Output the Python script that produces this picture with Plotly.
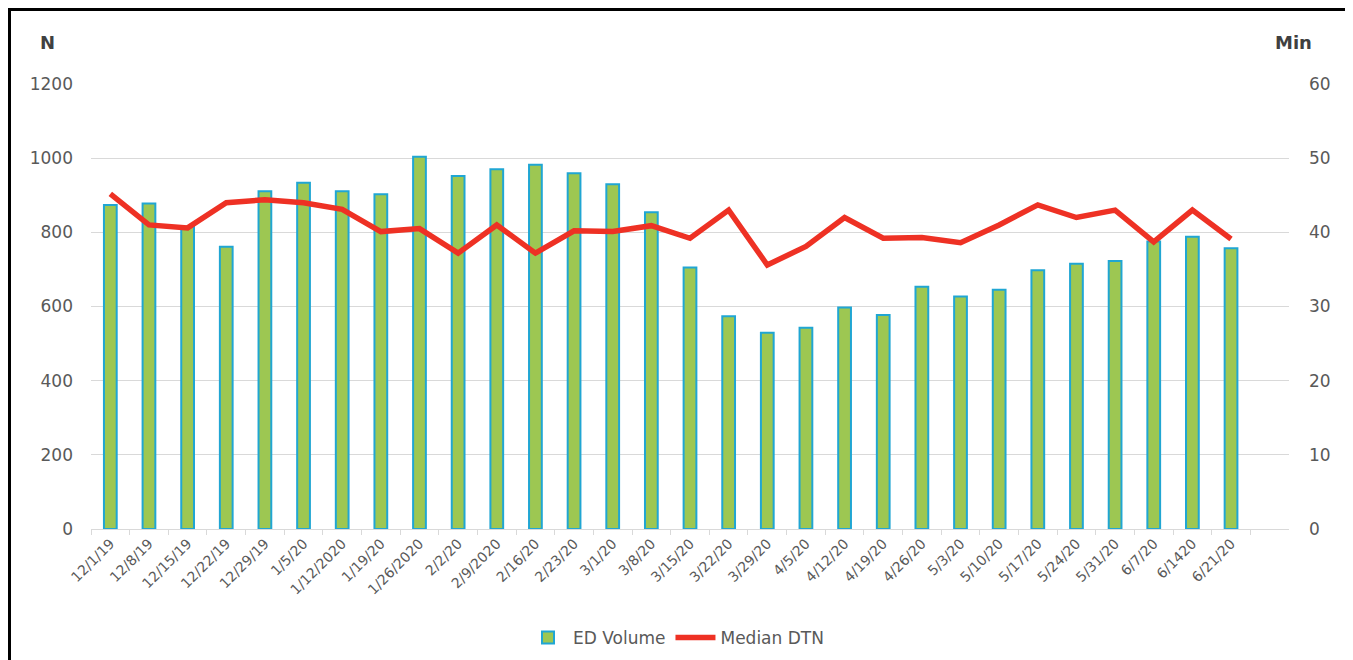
import plotly.graph_objects as go

dates = ["12/1/19", "12/8/19", "12/15/19", "12/22/19", "12/29/19", "1/5/20", "1/12/2020",
         "1/19/20", "1/26/2020", "2/2/20", "2/9/2020", "2/16/20", "2/23/20", "3/1/20",
         "3/8/20", "3/15/20", "3/22/20", "3/29/20", "4/5/20", "4/12/20", "4/19/20",
         "4/26/20", "5/3/20", "5/10/20", "5/17/20", "5/24/20", "5/31/20", "6/7/20",
         "6/1420", "6/21/20"]
ed_volume = [874, 878, 815, 761, 911, 934, 911, 903, 1004, 952, 970, 982, 959, 930,
             854, 705, 574, 529, 543, 597, 577, 653, 627, 645, 698, 715, 723, 775, 788, 757]
median_dtn = [45.2, 41.0, 40.6, 44.0, 44.4, 44.0, 43.1, 40.1, 40.5, 37.2, 41.0, 37.2, 40.2,
              40.1, 40.9, 39.2, 43.0, 35.6, 38.1, 42.0, 39.2, 39.3, 38.6, 41.0, 43.7, 42.0,
              43.0, 38.7, 43.0, 39.1]
left_ticks = [0, 200, 400, 600, 800, 1000, 1200]
right_ticks = [0, 10, 20, 30, 40, 50, 60]

FONT = "'DejaVu Sans', Lato, sans-serif"
W, H = 1353, 660
OFF = 8  # page body margin offset
X0, X1, Y0, Y1 = 91, 1289, 84, 529  # plot area in page pixels
pw, ph = X1 - X0, Y1 - Y0
L, T = X0 - OFF, Y0 - OFF
R, B = W - L - pw, H - T - ph


def px(x):
    return (x - X0) / pw


def py(y):
    return 1 - (y - Y0) / ph


fig = go.Figure()
fig.add_trace(go.Bar(
    x=dates, y=ed_volume, name="ED Volume", width=0.33,
    marker=dict(color="#9DC752", line=dict(color="#20A6D3", width=2)),
    yaxis="y"))
fig.add_trace(go.Scatter(
    x=dates, y=median_dtn, name="Median DTN", mode="lines",
    line=dict(color="#EE3124", width=5.5), yaxis="y2"))

fig.update_layout(
    width=W, height=H,
    margin=dict(l=L, r=R, t=T, b=B, autoexpand=False),
    paper_bgcolor="white", plot_bgcolor="white",
    font=dict(family=FONT, color="#595959", size=14),
    showlegend=True,
    legend=dict(orientation="h", x=px(676), xanchor="center", y=py(620), yanchor="top",
                font=dict(size=17, color="#595959"), itemwidth=40, traceorder="normal"),
    xaxis=dict(type="category", categoryorder="array", categoryarray=dates,
               range=[-0.5, 30.5], tickangle=-45, tickfont=dict(size=14),
               showgrid=False, showline=True, linecolor="#D9D9D9", linewidth=1,
               ticks="outside", tickson="boundaries", ticklen=5, tickcolor="#D9D9D9"),
    yaxis=dict(range=[0, 1200], tickvals=left_ticks, showgrid=True, gridcolor="#D9D9D9",
               gridwidth=1, zeroline=False, showline=False, ticks="", ticklabelstandoff=17,
               tickfont=dict(size=17)),
    yaxis2=dict(range=[0, 60], tickvals=right_ticks, overlaying="y", side="right",
                showgrid=False, zeroline=False, showline=False, ticks="",
                ticklabelstandoff=19, tickfont=dict(size=17)),
    annotations=[
        dict(text="<b>N</b>", xref="paper", yref="paper", x=px(47), y=py(42),
             xanchor="center", yanchor="middle", showarrow=False,
             font=dict(size=18, color="#404040", family=FONT)),
        dict(text="<b>Min</b>", xref="paper", yref="paper", x=px(1293), y=py(42),
             xanchor="center", yanchor="middle", showarrow=False,
             font=dict(size=18, color="#404040", family=FONT)),
    ],
    shapes=[
        dict(type="line", xref="paper", yref="paper", x0=px(9.5), x1=px(9.5),
             y0=py(8.5), y1=py(H + 20), line=dict(color="black", width=3)),
        dict(type="line", xref="paper", yref="paper", x0=px(8), x1=px(W + 20),
             y0=py(9.5), y1=py(9.5), line=dict(color="black", width=3)),
    ],
)

fig.write_html("out.html")
